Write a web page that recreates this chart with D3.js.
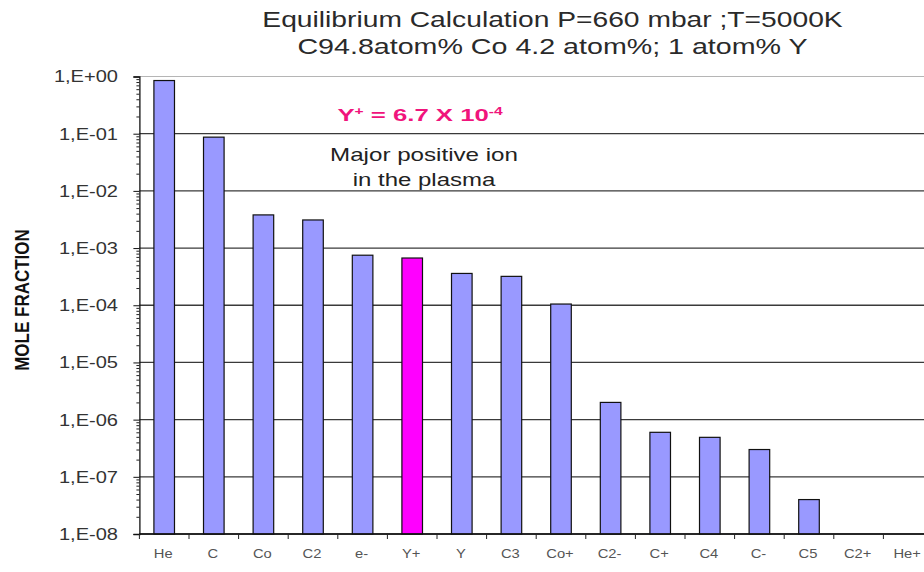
<!DOCTYPE html>
<html>
<head>
<meta charset="utf-8">
<script src="https://cdn.jsdelivr.net/npm/d3@7"></script>
<style>
  html, body { margin: 0; padding: 0; background: #fff; }
  svg { display: block; font-family: Arial, "Liberation Sans", sans-serif; }
</style>
</head>
<body>
<svg id="chart" width="924" height="572"></svg>
<script>
// Species and their equilibrium mole fractions (C2+ and He+ fall below the 1E-08 floor)
const species = ["He", "C", "Co", "C2", "e-", "Y+", "Y", "C3", "Co+", "C2-", "C+", "C4", "C-", "C5", "C2+", "He+"];
const moleFraction = [0.85, 0.087, 3.8e-3, 3.1e-3, 7.5e-4, 6.7e-4, 3.6e-4, 3.2e-4, 1.05e-4,
                      2.0e-6, 6.0e-7, 4.9e-7, 3.0e-7, 4.0e-8, 1e-9, 1e-9];
const highlighted = ["Y+"];
const yTickValues = [1, 1e-1, 1e-2, 1e-3, 1e-4, 1e-5, 1e-6, 1e-7, 1e-8];
const yTickLabels = ["1,E+00", "1,E-01", "1,E-02", "1,E-03", "1,E-04", "1,E-05", "1,E-06", "1,E-07", "1,E-08"];
const titleLines = ["Equilibrium Calculation P=660 mbar ;T=5000K", "C94.8atom% Co 4.2 atom%; 1 atom% Y"];
const noteLines = ["Major positive ion", "in the plasma"];

const svg = d3.select("#chart");
const plotLeft = 139.4, step = 49.6, plotTop = 76.5, plotBottom = 534;
const SX = 1.18; // horizontal stretch applied to all lettering

const x = d3.scaleBand().domain(species)
  .range([plotLeft, plotLeft + step * species.length])
  .paddingInner(0.585).paddingOuter(0.2925);
const y = d3.scaleLog().domain([1e-8, 1]).range([plotBottom, plotTop]);

// place a text element and stretch it horizontally about its anchor
function stretched(sel, px, py, sx) {
  sel.attr("transform", `translate(${px},${py}) scale(${sx},1)`);
  return sel;
}
// place a text element and scale it so it spans a given width
function fitted(sel, px, py, width) {
  const w = sel.node().getBBox().width;
  sel.attr("transform", `translate(${px},${py}) scale(${width / w},1)`);
  return sel;
}

// gridlines at each decade
svg.append("g").selectAll("line")
  .data(yTickValues)
  .join("line")
  .attr("x1", plotLeft).attr("x2", 924)
  .attr("y1", d => y(d)).attr("y2", d => y(d))
  .attr("stroke", (d, i) => i === 0 ? "#b5b5b5" : "#3a3a3a")
  .attr("stroke-width", (d, i) => i === 0 ? 1 : 1.3);

// bars
svg.append("g").selectAll("rect")
  .data(species.map((s, i) => ({ s, v: moleFraction[i] })).filter(d => d.v > 1e-8))
  .join("rect")
  .attr("x", d => x(d.s))
  .attr("width", x.bandwidth())
  .attr("y", d => y(d.v))
  .attr("height", d => plotBottom - y(d.v))
  .attr("fill", d => highlighted.includes(d.s) ? "#ff00ff" : "#9999ff")
  .attr("stroke", "#111")
  .attr("stroke-width", 1.2);

// y axis: major and minor log ticks
const minorTicks = [];
for (let e = -8; e < 0; e++) for (let m = 2; m <= 9; m++) minorTicks.push(m * Math.pow(10, e));
const yAxisMinor = d3.axisLeft(y).tickValues(minorTicks).tickSize(3).tickFormat("");
svg.append("g").attr("transform", `translate(${plotLeft},0)`).call(yAxisMinor)
  .call(g => g.select(".domain").remove())
  .call(g => g.selectAll("line").attr("stroke", "#222"));
const yAxis = d3.axisLeft(y).tickValues(yTickValues).tickSize(6).tickFormat("");
svg.append("g").attr("transform", `translate(${plotLeft},0)`).call(yAxis)
  .call(g => g.select(".domain").attr("stroke", "#111").attr("stroke-width", 1.3))
  .call(g => g.selectAll("line").attr("stroke", "#111"));

// y tick labels
const yLab = svg.append("g");
yTickValues.forEach((v, i) => {
  const t = yLab.append("text")
    .attr("text-anchor", "end")
    .attr("font-size", 17)
    .attr("fill", "#333")
    .attr("dy", "0.35em")
    .text(yTickLabels[i]);
  stretched(t, 118, y(v), SX);
});

// x axis: baseline with ticks at category boundaries
const xAxis = d3.axisBottom(x).tickSize(0).tickFormat("");
svg.append("g").attr("transform", `translate(0,${plotBottom})`).call(xAxis)
  .call(g => g.select(".domain").attr("d", `M${plotLeft},0H924`).attr("stroke", "#111").attr("stroke-width", 1.3));
svg.append("g").selectAll("line")
  .data(d3.range(species.length + 1))
  .join("line")
  .attr("x1", i => plotLeft + i * step).attr("x2", i => plotLeft + i * step)
  .attr("y1", plotBottom).attr("y2", plotBottom + 5)
  .attr("stroke", "#222");

// category labels
species.forEach(s => {
  const t = svg.append("text")
    .attr("text-anchor", "middle")
    .attr("font-size", 12.5)
    .attr("fill", "#555")
    .text(s);
  stretched(t, x(s) + x.bandwidth() / 2 - 1, 558, SX);
});

// axis title
svg.append("text")
  .attr("transform", "translate(29,300) rotate(-90) scale(1,1.2)")
  .attr("text-anchor", "middle")
  .attr("font-size", 17)
  .attr("font-weight", "bold")
  .attr("fill", "#111")
  .text("MOLE FRACTION");

// chart title
const titleWidths = [581, 511];
titleLines.forEach((line, i) => {
  const t = svg.append("text")
    .attr("text-anchor", "middle")
    .attr("font-size", 22)
    .attr("fill", "#2a2a2a")
    .text(line);
  fitted(t, 552.5, 27 + i * 27, titleWidths[i]);
});

// Y+ value annotation
const yp = svg.append("text")
  .attr("text-anchor", "middle")
  .attr("font-size", 16.5)
  .attr("font-weight", "bold")
  .attr("fill", "#f0147c");
yp.append("tspan").text("Y");
yp.append("tspan").attr("font-size", 10).attr("dy", -6).text("+");
yp.append("tspan").attr("dy", 6).text(" = 6.7  X  10");
yp.append("tspan").attr("font-size", 10).attr("dy", -6).text("-4");
fitted(yp, 420, 121, 166);

// note
const noteWidths = [188, 143];
noteLines.forEach((line, i) => {
  const t = svg.append("text")
    .attr("text-anchor", "middle")
    .attr("font-size", 17.5)
    .attr("fill", "#222")
    .text(line);
  fitted(t, 424, 161 + i * 25, noteWidths[i]);
});
</script>
</body>
</html>
